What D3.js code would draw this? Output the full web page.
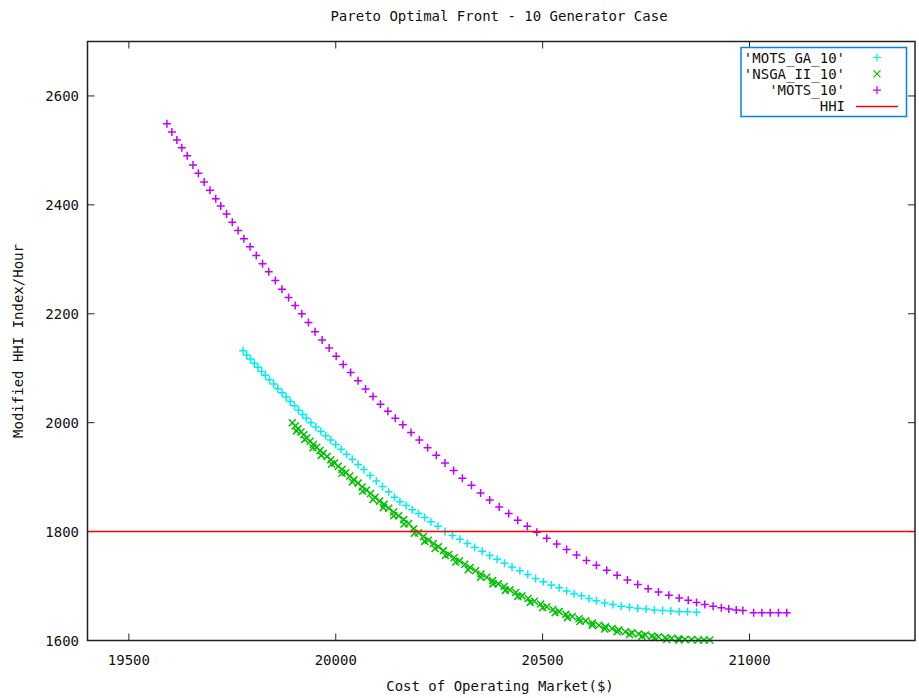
<!DOCTYPE html>
<html>
<head>
<meta charset="utf-8">
<script src="https://cdn.jsdelivr.net/npm/d3@7"></script>
<style>
  body { margin: 0; background: #fff; }
  text { font-family: "DejaVu Sans Mono", monospace; font-size: 14px; fill: #111; }
</style>
</head>
<body>
<svg id="chart" width="919" height="698"></svg>
<script>
// x tick values and y tick values
var xTicks = [19500, 20000, 20500, 21000];
var yTicks = [1600, 1800, 2000, 2200, 2400, 2600];
var hhiLimit = 1800;

// 'MOTS_GA_10' (cyan +)
var motsGa10 = [
  [19776,2132],[19785,2124],[19794,2117],[19803,2109],[19812,2102],[19821,2094],[19830,2087],
  [19840,2079],[19850,2071],[19860,2063],[19870,2055],[19880,2047],[19890,2039],[19900,2031],
  [19910,2023],[19920,2015],[19929,2008],[19940,2000],[19952,1992],[19964,1984],[19976,1976],
  [19988,1968],[20000,1960],[20013,1951],[20026,1942],[20040,1933],[20054,1923],[20068,1914],
  [20083,1903],[20098,1893],[20113,1883],[20128,1873],[20142,1863],[20155,1855],[20170,1848],
  [20185,1840],[20200,1833],[20215,1826],[20230,1818],[20247,1810],[20264,1800],[20282,1793],
  [20300,1786],[20318,1778],[20336,1771],[20354,1764],[20372,1756],[20390,1749],[20408,1742],
  [20426,1735],[20445,1728],[20464,1721],[20483,1714],[20502,1708],[20521,1702],[20540,1697],
  [20558,1691],[20576,1686],[20594,1682],[20612,1677],[20630,1673],[20650,1669],[20670,1666],
  [20690,1663],[20710,1661],[20730,1659],[20750,1658],[20770,1656],[20790,1655],[20810,1654],
  [20830,1653],[20850,1653],[20872,1652]
];

// 'NSGA_II_10' (green x)
var nsgaII10 = [
  [19895,2000],[19902,1994],[19909,1989],[19916,1983],[19923,1978],[19930,1972],[19938,1966],
  [19946,1960],[19954,1955],[19962,1949],[19970,1944],[19979,1938],[19988,1932],[19997,1926],
  [20006,1920],[20015,1914],[20024,1908],[20034,1902],[20044,1895],[20054,1889],[20064,1882],
  [20074,1876],[20084,1870],[20095,1863],[20106,1856],[20117,1850],[20128,1843],[20140,1836],
  [20152,1829],[20164,1822],[20176,1815],[20188,1805],[20200,1798],[20212,1791],[20224,1784],
  [20236,1778],[20248,1772],[20260,1765],[20273,1758],[20286,1752],[20299,1746],[20312,1740],
  [20325,1734],[20338,1728],[20351,1722],[20365,1716],[20379,1710],[20393,1704],[20407,1699],
  [20421,1693],[20435,1688],[20450,1682],[20465,1677],[20480,1672],[20495,1667],[20510,1662],
  [20525,1657],[20540,1653],[20556,1648],[20572,1644],[20588,1640],[20604,1636],[20620,1632],
  [20636,1628],[20652,1625],[20668,1622],[20684,1619],[20700,1616],[20716,1614],[20732,1612],
  [20748,1610],[20764,1608],[20780,1607],[20796,1605],[20812,1604],[20828,1603],[20844,1602],
  [20860,1602],[20876,1601],[20890,1601],[20904,1601],
  [19905,1985],[19925,1969],[19945,1954],[19965,1940],[19990,1924],[20015,1907],[20040,1891],
  [20065,1874],[20090,1859],[20115,1844],[20140,1829],[20165,1814],[20190,1797],[20215,1782],
  [20240,1769],[20265,1756],[20290,1744],[20320,1730],[20350,1716],[20380,1704],[20410,1692],
  [20440,1681],[20470,1670],[20500,1660],[20530,1651],[20560,1642],[20590,1635],[20620,1628],
  [20650,1621],[20680,1616],[20710,1611],[20740,1608],[20770,1605],[20800,1602],[20830,1601]
];

// 'MOTS_10' (purple +)
var mots10 = [
  [19592,2549],[19604,2534],[19616,2519],[19628,2505],[19641,2490],[19655,2473],[19668,2458],
  [19682,2442],[19696,2427],[19710,2411],[19722,2398],[19736,2383],[19750,2368],[19764,2353],
  [19778,2338],[19793,2323],[19808,2307],[19823,2292],[19838,2277],[19854,2261],[19870,2245],
  [19886,2230],[19902,2215],[19918,2200],[19934,2184],[19950,2167],[19967,2152],[19984,2137],
  [20001,2122],[20018,2107],[20036,2092],[20054,2077],[20072,2062],[20090,2048],[20108,2034],
  [20126,2021],[20144,2008],[20162,1996],[20182,1982],[20202,1968],[20222,1954],[20243,1940],
  [20264,1926],[20285,1912],[20306,1898],[20328,1885],[20350,1871],[20372,1858],[20395,1845],
  [20418,1833],[20440,1821],[20463,1810],[20486,1799],[20510,1788],[20534,1777],[20558,1767],
  [20582,1757],[20606,1747],[20630,1738],[20655,1729],[20680,1720],[20705,1711],[20730,1703],
  [20755,1695],[20780,1689],[20805,1683],[20830,1678],[20852,1674],[20872,1670],[20892,1666],
  [20912,1663],[20932,1660],[20950,1658],[20968,1656],[20984,1655],[21010,1651],[21030,1651],
  [21050,1651],[21070,1651],[21090,1651]
];

var svg = d3.select("#chart");
var plotL = 87.5, plotR = 915, plotT = 41.5, plotB = 640.5;

var x = d3.scaleLinear().domain([19400, 21400]).range([plotL, plotR]);
var y = d3.scaleLinear().domain([1600, 2700]).range([plotB, plotT]);

var plusPath = "M-4,0H4M0,-4V4";
var crossPath = "M-3.5,-3.5L3.5,3.5M-3.5,3.5L3.5,-3.5";

// ticks (inward, mirrored)
var tickLen = 7;
var axisColor = "#222";
xTicks.forEach(function(t){
    svg.append("line").attr("x1", x(t)).attr("x2", x(t)).attr("y1", plotB).attr("y2", plotB - tickLen)
        .attr("stroke", axisColor).attr("stroke-width", 1);
    svg.append("line").attr("x1", x(t)).attr("x2", x(t)).attr("y1", plotT).attr("y2", plotT + tickLen)
        .attr("stroke", axisColor).attr("stroke-width", 1);
    svg.append("text").attr("x", x(t)).attr("y", 665).attr("text-anchor", "middle").text(t);
});
yTicks.forEach(function(t){
    svg.append("line").attr("x1", plotL).attr("x2", plotL + tickLen).attr("y1", y(t)).attr("y2", y(t))
        .attr("stroke", axisColor).attr("stroke-width", 1);
    svg.append("line").attr("x1", plotR).attr("x2", plotR - tickLen).attr("y1", y(t)).attr("y2", y(t))
        .attr("stroke", axisColor).attr("stroke-width", 1);
    svg.append("text").attr("x", 79).attr("y", y(t) + 5).attr("text-anchor", "end").text(t);
});

// series
function drawSeries(data, path, color){
    svg.append("g").selectAll("path").data(data).enter().append("path")
        .attr("d", path)
        .attr("transform", function(d){ return "translate(" + x(d[0]) + "," + y(d[1]) + ")"; })
        .attr("fill", "none")
        .attr("stroke", color)
        .attr("stroke-width", 1.5);
}
drawSeries(motsGa10, plusPath, "#00eeee");
drawSeries(nsgaII10, crossPath, "#00c000");
drawSeries(mots10, plusPath, "#c000ff");

// HHI line
svg.append("line").attr("x1", plotL).attr("x2", plotR).attr("y1", y(hhiLimit)).attr("y2", y(hhiLimit))
    .attr("stroke", "#ff0000").attr("stroke-width", 1.5);

// border
svg.append("rect").attr("x", plotL).attr("y", plotT).attr("width", plotR - plotL).attr("height", plotB - plotT)
    .attr("fill", "none").attr("stroke", axisColor).attr("stroke-width", 1.5);

// legend
var legend = [
    {name: "'MOTS_GA_10'", color: "#00eeee", mark: plusPath},
    {name: "'NSGA_II_10'", color: "#00c000", mark: crossPath},
    {name: "'MOTS_10'", color: "#c000ff", mark: plusPath},
    {name: "HHI", color: "#ff0000", mark: null}
];
var lg = svg.append("g");
lg.append("rect").attr("x", 741).attr("y", 47.5).attr("width", 165.5).attr("height", 69)
    .attr("fill", "#fff").attr("stroke", "#0080ff").attr("stroke-width", 1.5);
legend.forEach(function(d, i){
    var cy = 57.5 + i * 16.3;
    lg.append("text").attr("x", 845).attr("y", cy + 5).attr("text-anchor", "end").text(d.name);
    if (d.mark) {
        lg.append("path").attr("d", d.mark).attr("transform", "translate(877," + cy + ")")
            .attr("fill", "none").attr("stroke", d.color).attr("stroke-width", 1.2);
    } else {
        lg.append("line").attr("x1", 856).attr("x2", 898).attr("y1", cy).attr("y2", cy)
            .attr("stroke", d.color).attr("stroke-width", 1.5);
    }
});

// titles
svg.append("text").attr("x", 499).attr("y", 21).attr("text-anchor", "middle")
    .text("Pareto Optimal Front - 10 Generator Case");
svg.append("text").attr("x", 500).attr("y", 691).attr("text-anchor", "middle")
    .text("Cost of Operating Market($)");
svg.append("text").attr("transform", "translate(23,341) rotate(-90)").attr("text-anchor", "middle")
    .text("Modified HHI Index/Hour");
</script>
</body>
</html>
